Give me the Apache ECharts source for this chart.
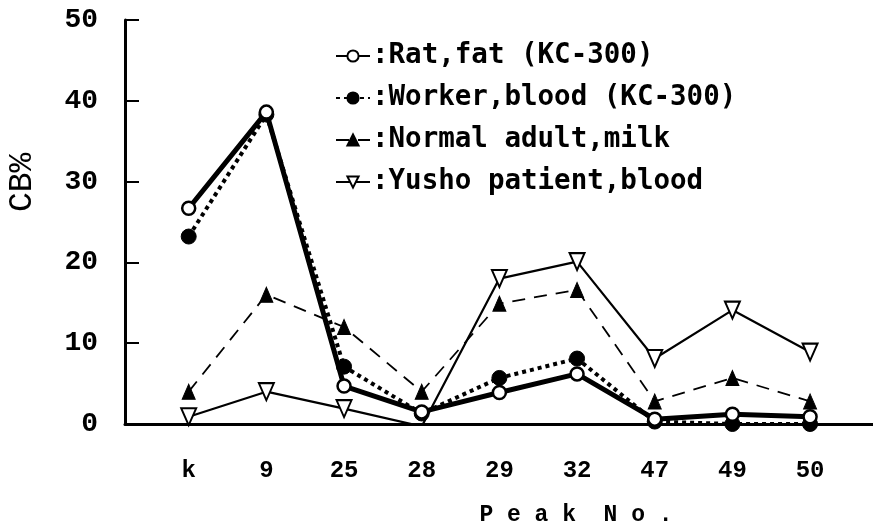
<!DOCTYPE html>
<html>
<head>
<meta charset="utf-8">
<script src="https://cdn.jsdelivr.net/npm/echarts@6/dist/echarts.min.js"></script>
<style>html,body{margin:0;padding:0;background:#fff}#c{width:873px;height:532px}</style>
</head>
<body>
<div id="c"></div>
<script>
var categories = ['k', '9', '25', '28', '29', '32', '47', '49', '50'];
var ratFat = [26.7, 38.6, 4.7, 1.5, 3.9, 6.2, 0.6, 1.2, 0.9];
var workerBlood = [23.2, 38.3, 7.1, 1.3, 5.7, 8.1, 0.3, 0, 0];
var normalMilk = [4.0, 16.0, 12.0, 4.0, 14.9, 16.6, 2.8, 5.7, 2.8];
var yushoBlood = [0.9, 4.0, 1.9, -0.3, 18.0, 20.1, 8.1, 14.1, 8.9];
var yTicks = [0, 10, 20, 30, 40, 50];
var xTitle = 'P e a k  N o .';
var yTitle = 'CB%';

function pairs(arr) { return arr.map(function (v, i) { return [i, v]; }); }

var chart = echarts.init(document.getElementById('c'));
chart.setOption({
  animation: false,
  backgroundColor: '#fff',
  grid: { left: 125, right: 0, top: 20, bottom: 108 },
  graphic: [
    {
      type: 'text', x: 22, y: 212, rotation: Math.PI / 2,
      style: { text: yTitle, fontFamily: 'Liberation Mono', fontSize: 33, fill: '#000', align: 'left', verticalAlign: 'middle' }
    },
    {
      type: 'text', x: 576, y: 515,
      style: { text: xTitle, fontFamily: 'Liberation Mono', fontWeight: 'bold', fontSize: 23, fill: '#000', align: 'center', verticalAlign: 'middle' }
    }
  ],
  legend: {
    orient: 'vertical',
    left: 330,
    top: 36,
    itemWidth: 34,
    itemHeight: 14,
    itemGap: 12,
    formatter: function (n) { return ':' + n; },
    textStyle: { fontFamily: 'DejaVu Sans Mono', fontWeight: 'bold', fontSize: 27.5, color: '#000', lineHeight: 30, padding: [0, 0, 0, -3] },
    data: ['Rat,fat (KC-300)', 'Worker,blood (KC-300)', 'Normal adult,milk', 'Yusho patient,blood']
  },
  xAxis: {
    type: 'value',
    min: -0.82,
    max: 8.81,
    axisLine: { show: true, onZero: false, lineStyle: { color: '#000', width: 3 } },
    axisTick: { show: false },
    splitLine: { show: false },
    axisLabel: {
      customValues: categories.map(function (c, i) { return i; }),
      formatter: function (v) { return categories[Math.round(v)]; },
      margin: 35,
      fontFamily: 'Liberation Mono', fontWeight: 'bold', fontSize: 24, color: '#000'
    }
  },
  yAxis: {
    type: 'value',
    min: 0,
    max: 50,
    interval: 10,
    axisLine: { show: true, onZero: false, lineStyle: { color: '#000', width: 3 } },
    axisTick: { show: true, inside: true, length: 14, lineStyle: { color: '#000', width: 2 } },
    splitLine: { show: false },
    axisLabel: {
      customValues: yTicks,
      margin: 27,
      fontFamily: 'Liberation Mono', fontWeight: 'bold', fontSize: 28, color: '#000'
    }
  },
  series: [
    {
      name: 'Rat,fat (KC-300)', type: 'line', data: pairs(ratFat), z: 4,
      symbol: 'circle', symbolSize: 13,
      lineStyle: { color: '#000', width: 5 },
      itemStyle: { color: '#fff', borderColor: '#000', borderWidth: 2.5 }
    },
    {
      name: 'Worker,blood (KC-300)', type: 'line', data: pairs(workerBlood), z: 3,
      symbol: 'circle', symbolSize: 15,
      lineStyle: { color: '#000', width: 4, type: [4, 4] },
      itemStyle: { color: '#000', borderColor: '#000', borderWidth: 1 }
    },
    {
      name: 'Normal adult,milk', type: 'line', data: pairs(normalMilk), z: 2,
      symbol: 'triangle', symbolSize: [13, 15],
      lineStyle: { color: '#000', width: 1.8, type: [13, 9] },
      itemStyle: { color: '#000', borderColor: '#000', borderWidth: 1 }
    },
    {
      name: 'Yusho patient,blood', type: 'line', data: pairs(yushoBlood), z: 5,
      symbol: 'triangle', symbolSize: [15, 17], symbolRotate: 180,
      lineStyle: { color: '#000', width: 2.2 },
      itemStyle: { color: '#fff', borderColor: '#000', borderWidth: 2 }
    }
  ]
});
</script>
</body>
</html>
